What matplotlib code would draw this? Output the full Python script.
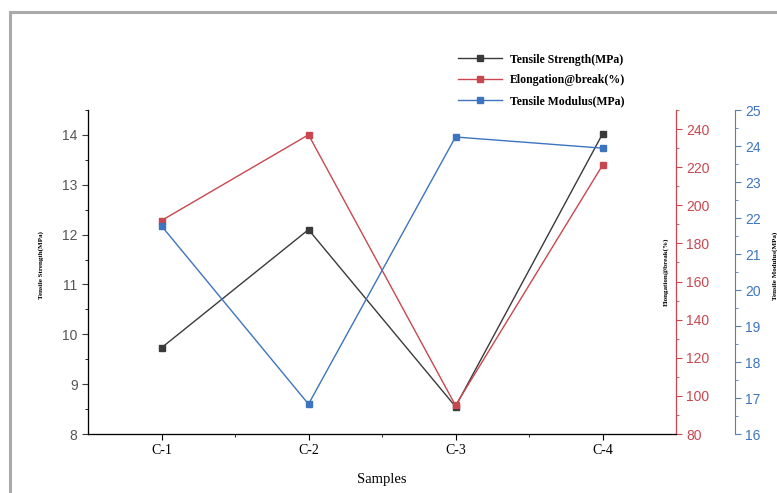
import matplotlib.pyplot as plt
from matplotlib.patches import Rectangle
from matplotlib.ticker import MultipleLocator, FixedLocator

samples = ['C-1', 'C-2', 'C-3', 'C-4']
strength = [9.73, 12.1, 8.55, 14.02]
elongation = [192, 237, 95, 221]
modulus = [21.78, 16.83, 24.25, 23.94]

c_black = '#3a3a3a'
c_red = '#c9474f'
c_blue = '#3d74c0'
serif = 'Liberation Serif'
sans = 'Liberation Sans'

fig = plt.figure(figsize=(7.77, 4.93), dpi=100)
fig.patches.append(Rectangle((10 / 777, -0.1), 1.2, 1 - 12 / 493 + 0.1,
                             transform=fig.transFigure, fill=False,
                             edgecolor='#aaaaaa', linewidth=2.2))

ax = fig.add_axes([88 / 777, 1 - 434 / 493, 588 / 777, 324 / 493])
ax2 = ax.twinx()
ax3 = ax.twinx()
ax3.spines['right'].set_position(('axes', 647 / 588))

x = range(1, 5)
l1, = ax.plot(x, strength, '-s', color=c_black, lw=1, ms=5,
              label='Tensile Strength(MPa)')
l2, = ax2.plot(x, elongation, '-s', color=c_red, lw=1, ms=5,
               label='Elongation@break(%)')
l3, = ax3.plot(x, modulus, '-s', color=c_blue, lw=1, ms=5,
               label='Tensile Modulus(MPa)')

ax.set_xlim(0.5, 4.5)
ax.set_ylim(8, 14.5)
ax2.set_ylim(80, 250)
ax3.set_ylim(16, 25)

ax.set_xticks(list(x))
ax.set_xticklabels(samples, fontfamily=serif, fontsize=10)
ax.xaxis.set_minor_locator(FixedLocator([1.5, 2.5, 3.5]))
ax.yaxis.set_major_locator(MultipleLocator(1))
ax.yaxis.set_minor_locator(MultipleLocator(0.5))
ax2.yaxis.set_major_locator(MultipleLocator(20))
ax2.yaxis.set_minor_locator(MultipleLocator(10))
ax3.yaxis.set_major_locator(MultipleLocator(1))
ax3.yaxis.set_minor_locator(MultipleLocator(0.5))

for a in (ax, ax2, ax3):
    a.spines['top'].set_visible(False)
    a.tick_params(which='major', direction='out', length=4, width=0.8)
    a.tick_params(which='minor', direction='out', length=2.5, width=0.6)
    for lab in a.get_yticklabels():
        lab.set_fontfamily(sans)
        lab.set_fontsize(10)

ax.spines['left'].set_color(c_black)
ax.spines['bottom'].set_color(c_black)
ax.tick_params(axis='y', colors=c_black, labelcolor='#555555')
ax2.spines['right'].set_color(c_red)
ax2.tick_params(axis='y', which='both', colors=c_red, labelcolor=c_red)
ax3.spines['right'].set_color('#5a7fa8')
ax3.tick_params(axis='y', which='both', colors='#5a7fa8', labelcolor=c_blue)

ax.set_xlabel('Samples', fontfamily=serif, fontsize=10.5, labelpad=11)
ax.set_ylabel('Tensile Strength(MPa)', fontfamily=serif, fontsize=5,
              fontweight='bold')
ax.yaxis.set_label_coords(-0.074, 0.52)
ax2.set_ylabel('Elongation@break(%)', fontfamily=serif, fontsize=5,
               fontweight='bold')
ax2.yaxis.set_label_coords(0.978, 0.5)
ax3.set_ylabel('Tensile Modulus(MPa)', fontfamily=serif, fontsize=5,
               fontweight='bold')
ax3.yaxis.set_label_coords(1.163, 0.52)

fig.legend(handles=[l1, l2, l3], loc='upper left',
           bbox_to_anchor=(447 / 777, 1 - 43 / 493), frameon=False,
           prop={'family': serif, 'weight': 'bold', 'size': 8.5},
           handlelength=3.8, labelspacing=0.75, handletextpad=0.6)

fig.savefig('out.png', dpi=100)
